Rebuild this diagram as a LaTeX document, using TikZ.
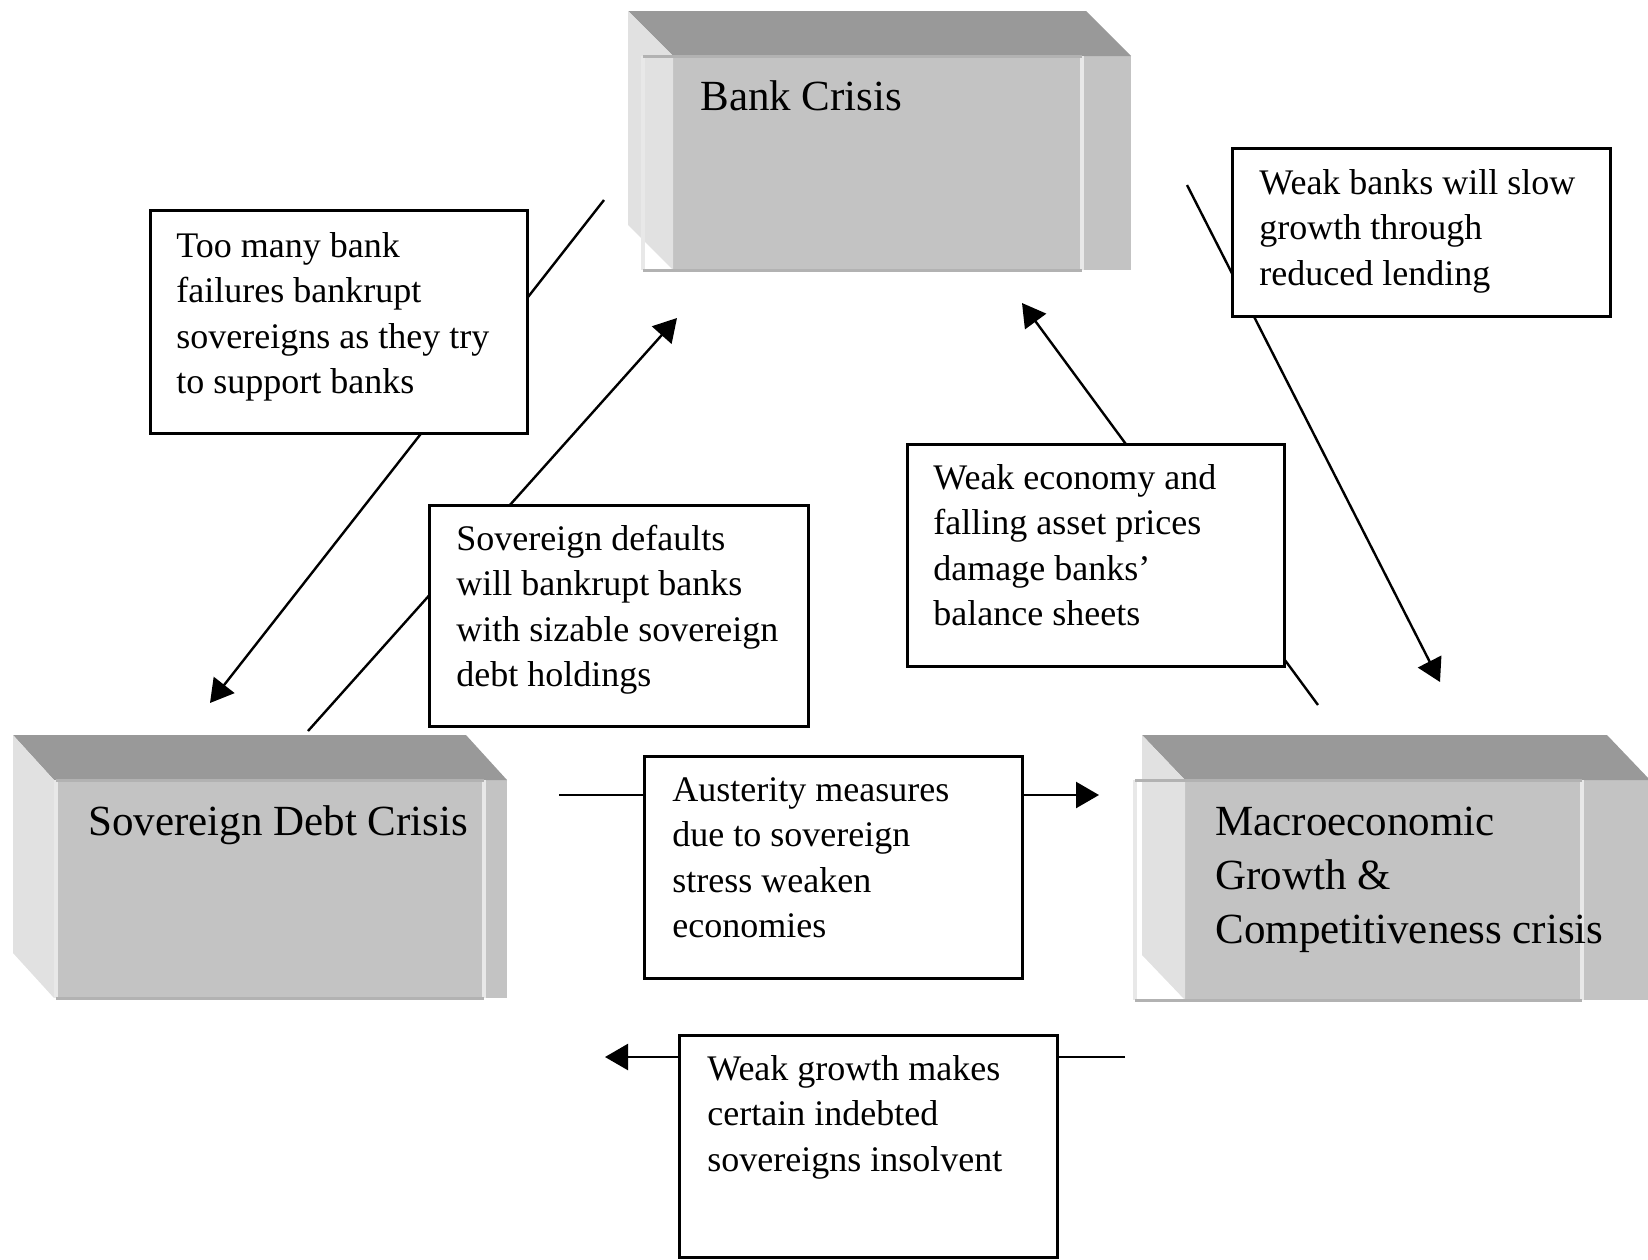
\documentclass[tikz,border=0pt]{standalone}
\usepackage{fontspec}
\setmainfont{Liberation Serif}
\usetikzlibrary{arrows.meta}
\definecolor{topc}{HTML}{999999}
\definecolor{leftc}{HTML}{E1E1E1}
\definecolor{frontc}{HTML}{C3C3C3}
\definecolor{edgedark}{HTML}{B2B2B2}
\definecolor{edgelight}{HTML}{E8E8E8}
\newcommand{\threedbox}[7]{%
  % #1 front left, #2 front top, #3 cube right, #4 bottom, #5 frame left, #6 frame right, #7 depth x
  \fill[frontc] (#1,#2) rectangle (#3,#4);
  \fill[topc] ({#1-#7},{#2-45}) -- ({#3-#7},{#2-45}) -- (#3,#2) -- (#1,#2) -- cycle;
  \fill[leftc] ({#1-#7},{#2-45}) -- (#1,#2) -- (#1,#4) -- ({#1-#7},{#4-45}) -- cycle;
  \draw[edgelight, line width=1.6pt] (#5,#2) -- (#5,#4);
  \draw[edgelight, line width=1.6pt] (#6,#2) -- (#6,#4);
  \draw[edgedark, line width=1.5pt] (#5,#2) -- (#6,#2);
  \draw[edgedark, line width=1.5pt] (#5,#4) -- (#6,#4);
}
\begin{document}
\begin{tikzpicture}[x=0.5pt,y=-0.5pt,
  conn/.style={line width=1.2pt, black},
  arr/.style={conn, -{Triangle[length=11.5pt,width=13pt]}},
  tbox/.style={draw=black, line width=1.4pt, fill=white, anchor=north west, inner sep=0pt},
  txt/.style={anchor=base west, inner sep=0pt, font=\fontsize{18}{22.75}\selectfont},
  ttl/.style={anchor=base west, inner sep=0pt, font=\fontsize{21.5}{27}\selectfont}]
\useasboundingbox (0,0) rectangle (1648,1259);

% main 3D boxes
\threedbox{673}{56}{1131}{270}{643}{1082}{45}
\node[ttl] (bank) at (700,110) {Bank Crisis};

\threedbox{54}{780}{507}{998}{56}{484}{41}
\node[ttl] (sov) at (88,835) {Sovereign Debt Crisis};

\threedbox{1185}{780}{1650}{1000}{1135}{1582}{43}
\node[ttl] (macro) at (1215,835) {\parbox[t]{300pt}{Macroeconomic\\Growth \&\\Competitiveness crisis}};

% connector end points
\coordinate (a1s) at (604,200);  \coordinate (a1e) at (210,703);
\coordinate (a2s) at (308,731);  \coordinate (a2e) at (677,318);
\coordinate (a3s) at (1318,705); \coordinate (a3e) at (1022,303);
\coordinate (a4s) at (1187,185); \coordinate (a4e) at (1440,682);
\coordinate (a5s) at (559,795);  \coordinate (a5e) at (1099,795);
\coordinate (a6s) at (1125,1057); \coordinate (a6e) at (605,1057);

\draw[arr] (a1s) -- (a1e);
\draw[arr] (a2s) -- (a2e);
\draw[arr] (a3s) -- (a3e);
\draw[arr] (a4s) -- (a4e);
\draw[arr] (a5s) -- (a5e);
\draw[arr] (a6s) -- (a6e);

% text boxes
\node[tbox, minimum width={377*0.5pt}, minimum height={223*0.5pt}] (t1) at (149,209) {};
\node[txt] (t1x) at (176,257) {\parbox[t]{200pt}{Too many bank\\failures bankrupt\\sovereigns as they try\\to support banks}};

\node[tbox, minimum width={379*0.5pt}, minimum height={221*0.5pt}] (t2) at (428,504) {};
\node[txt] (t2x) at (456,550) {\parbox[t]{200pt}{Sovereign defaults\\will bankrupt banks\\with sizable sovereign\\debt holdings}};

\node[tbox, minimum width={377*0.5pt}, minimum height={222*0.5pt}] (t3) at (906,443) {};
\node[txt] (t3x) at (933,489) {\parbox[t]{200pt}{Weak economy and\\falling asset prices\\damage banks’\\balance sheets}};

\node[tbox, minimum width={378*0.5pt}, minimum height={168*0.5pt}] (t4) at (1231,147) {};
\node[txt] (t4x) at (1259,194) {\parbox[t]{200pt}{Weak banks will slow\\growth through\\reduced lending}};

\node[tbox, minimum width={378*0.5pt}, minimum height={222*0.5pt}] (t5) at (643,755) {};
\node[txt] (t5x) at (672,801) {\parbox[t]{200pt}{Austerity measures\\due to sovereign\\stress weaken\\economies}};

\node[tbox, minimum width={378*0.5pt}, minimum height={222*0.5pt}] (t6) at (678,1034) {};
\node[txt] (t6x) at (707,1080) {\parbox[t]{200pt}{Weak growth makes\\certain indebted\\sovereigns insolvent}};
\end{tikzpicture}
\end{document}
